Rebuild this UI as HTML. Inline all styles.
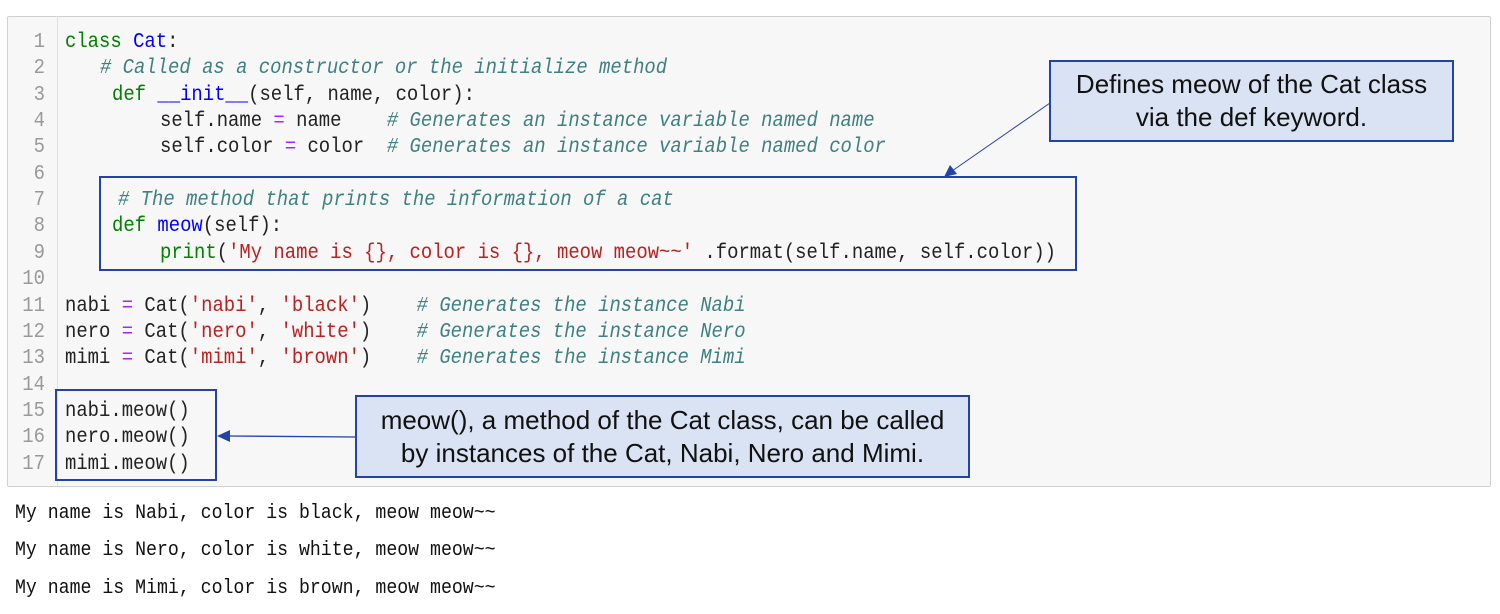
<!DOCTYPE html>
<html><head><style>
body{margin:0;width:1500px;height:614px;background:#fff;position:relative;overflow:hidden;font-family:"Liberation Mono",monospace}
.code{position:absolute;left:7px;top:16px;width:1482px;height:469px;background:#f7f7f7;border:1px solid #d0d0d0;border-radius:2px}
.gut{position:absolute;left:57px;top:16px;width:1px;height:470px;background:#e0e0e0}
.ln{position:absolute;width:38px;text-align:right;left:7px;color:#999;font-size:21px;transform:scaleX(0.9);transform-origin:right;margin-top:2px}
.l{position:absolute;font-size:21px;white-space:pre;color:#222;transform:scaleX(0.9);transform-origin:left;margin-top:2px}
.k{color:#008000}.n{color:#0000ff}.c{color:#408080;font-style:italic}.s{color:#ba2121}.o{color:#aa22ff}
.box{position:absolute;border:2px solid #2443a8;box-sizing:border-box}
.call{position:absolute;background:#dae3f3;border:2px solid #2443a8;box-sizing:border-box;font-family:"Liberation Sans",sans-serif;font-size:26px;color:#111;text-align:center;display:flex;align-items:center;justify-content:center;line-height:33px}
.out{position:absolute;left:15px;font-size:20px;white-space:pre;color:#111;transform:scaleX(0.91);transform-origin:left;margin-top:2px}
</style></head><body>
<div class="code"></div><div class="gut"></div>
<div class="ln" style="top:29px">1</div><div class="ln" style="top:55px">2</div><div class="ln" style="top:82px">3</div><div class="ln" style="top:108px">4</div><div class="ln" style="top:134px">5</div><div class="ln" style="top:161px">6</div><div class="ln" style="top:187px">7</div><div class="ln" style="top:213px">8</div><div class="ln" style="top:240px">9</div><div class="ln" style="top:266px">10</div><div class="ln" style="top:293px">11</div><div class="ln" style="top:319px">12</div><div class="ln" style="top:345px">13</div><div class="ln" style="top:372px">14</div><div class="ln" style="top:398px">15</div><div class="ln" style="top:424px">16</div><div class="ln" style="top:451px">17</div>
<div class="l" style="left:65px;top:29px"><span class="k">class</span> <span class="n">Cat</span>:</div>
<div class="l" style="left:100px;top:55px"><span class="c"># Called as a constructor or the initialize method</span></div>
<div class="l" style="left:112px;top:82px"><span class="k">def</span> <span class="n">__init__</span>(self, name, color):</div>
<div class="l" style="left:160px;top:108px">self.name <span class="o">=</span> name    <span class="c"># Generates an instance variable named name</span></div>
<div class="l" style="left:160px;top:134px">self.color <span class="o">=</span> color  <span class="c"># Generates an instance variable named color</span></div>
<div class="l" style="left:118px;top:187px"><span class="c"># The method that prints the information of a cat</span></div>
<div class="l" style="left:112px;top:213px"><span class="k">def</span> <span class="n">meow</span>(self):</div>
<div class="l" style="left:160px;top:240px"><span class="k">print</span>(<span class="s">'My name is {}, color is {}, meow meow~~'</span> .format(self.name, self.color))</div>
<div class="l" style="left:65px;top:293px">nabi <span class="o">=</span> Cat(<span class="s">'nabi'</span>, <span class="s">'black'</span>)    <span class="c"># Generates the instance Nabi</span></div>
<div class="l" style="left:65px;top:319px">nero <span class="o">=</span> Cat(<span class="s">'nero'</span>, <span class="s">'white'</span>)    <span class="c"># Generates the instance Nero</span></div>
<div class="l" style="left:65px;top:345px">mimi <span class="o">=</span> Cat(<span class="s">'mimi'</span>, <span class="s">'brown'</span>)    <span class="c"># Generates the instance Mimi</span></div>
<div class="l" style="left:65px;top:398px">nabi.meow()</div>
<div class="l" style="left:65px;top:424px">nero.meow()</div>
<div class="l" style="left:65px;top:451px">mimi.meow()</div>
<div class="box" style="left:99px;top:176px;width:978px;height:95px"></div>
<div class="box" style="left:55px;top:389px;width:162px;height:92px"></div>
<div class="call" style="left:1049px;top:60px;width:405px;height:82px">Defines meow of the Cat class<br>via the def keyword.</div>
<div class="call" style="left:355px;top:395px;width:615px;height:83px">meow(), a method of the Cat class, can be called<br>by instances of the Cat, Nabi, Nero and Mimi.</div>
<svg style="position:absolute;left:0;top:0" width="1500" height="614">
<line x1="1050" y1="103" x2="952" y2="171" stroke="#2443a8" stroke-width="1"/>
<polygon points="944,177 950,165 957,174" fill="#2443a8"/>
<line x1="356" y1="437" x2="228" y2="436" stroke="#2443a8" stroke-width="1.3"/>
<polygon points="217,436 230,430 230,442" fill="#2443a8"/>
</svg>
<div class="out" style="top:500px">My name is Nabi, color is black, meow meow~~</div>
<div class="out" style="top:537px">My name is Nero, color is white, meow meow~~</div>
<div class="out" style="top:575px">My name is Mimi, color is brown, meow meow~~</div>
</body></html>
